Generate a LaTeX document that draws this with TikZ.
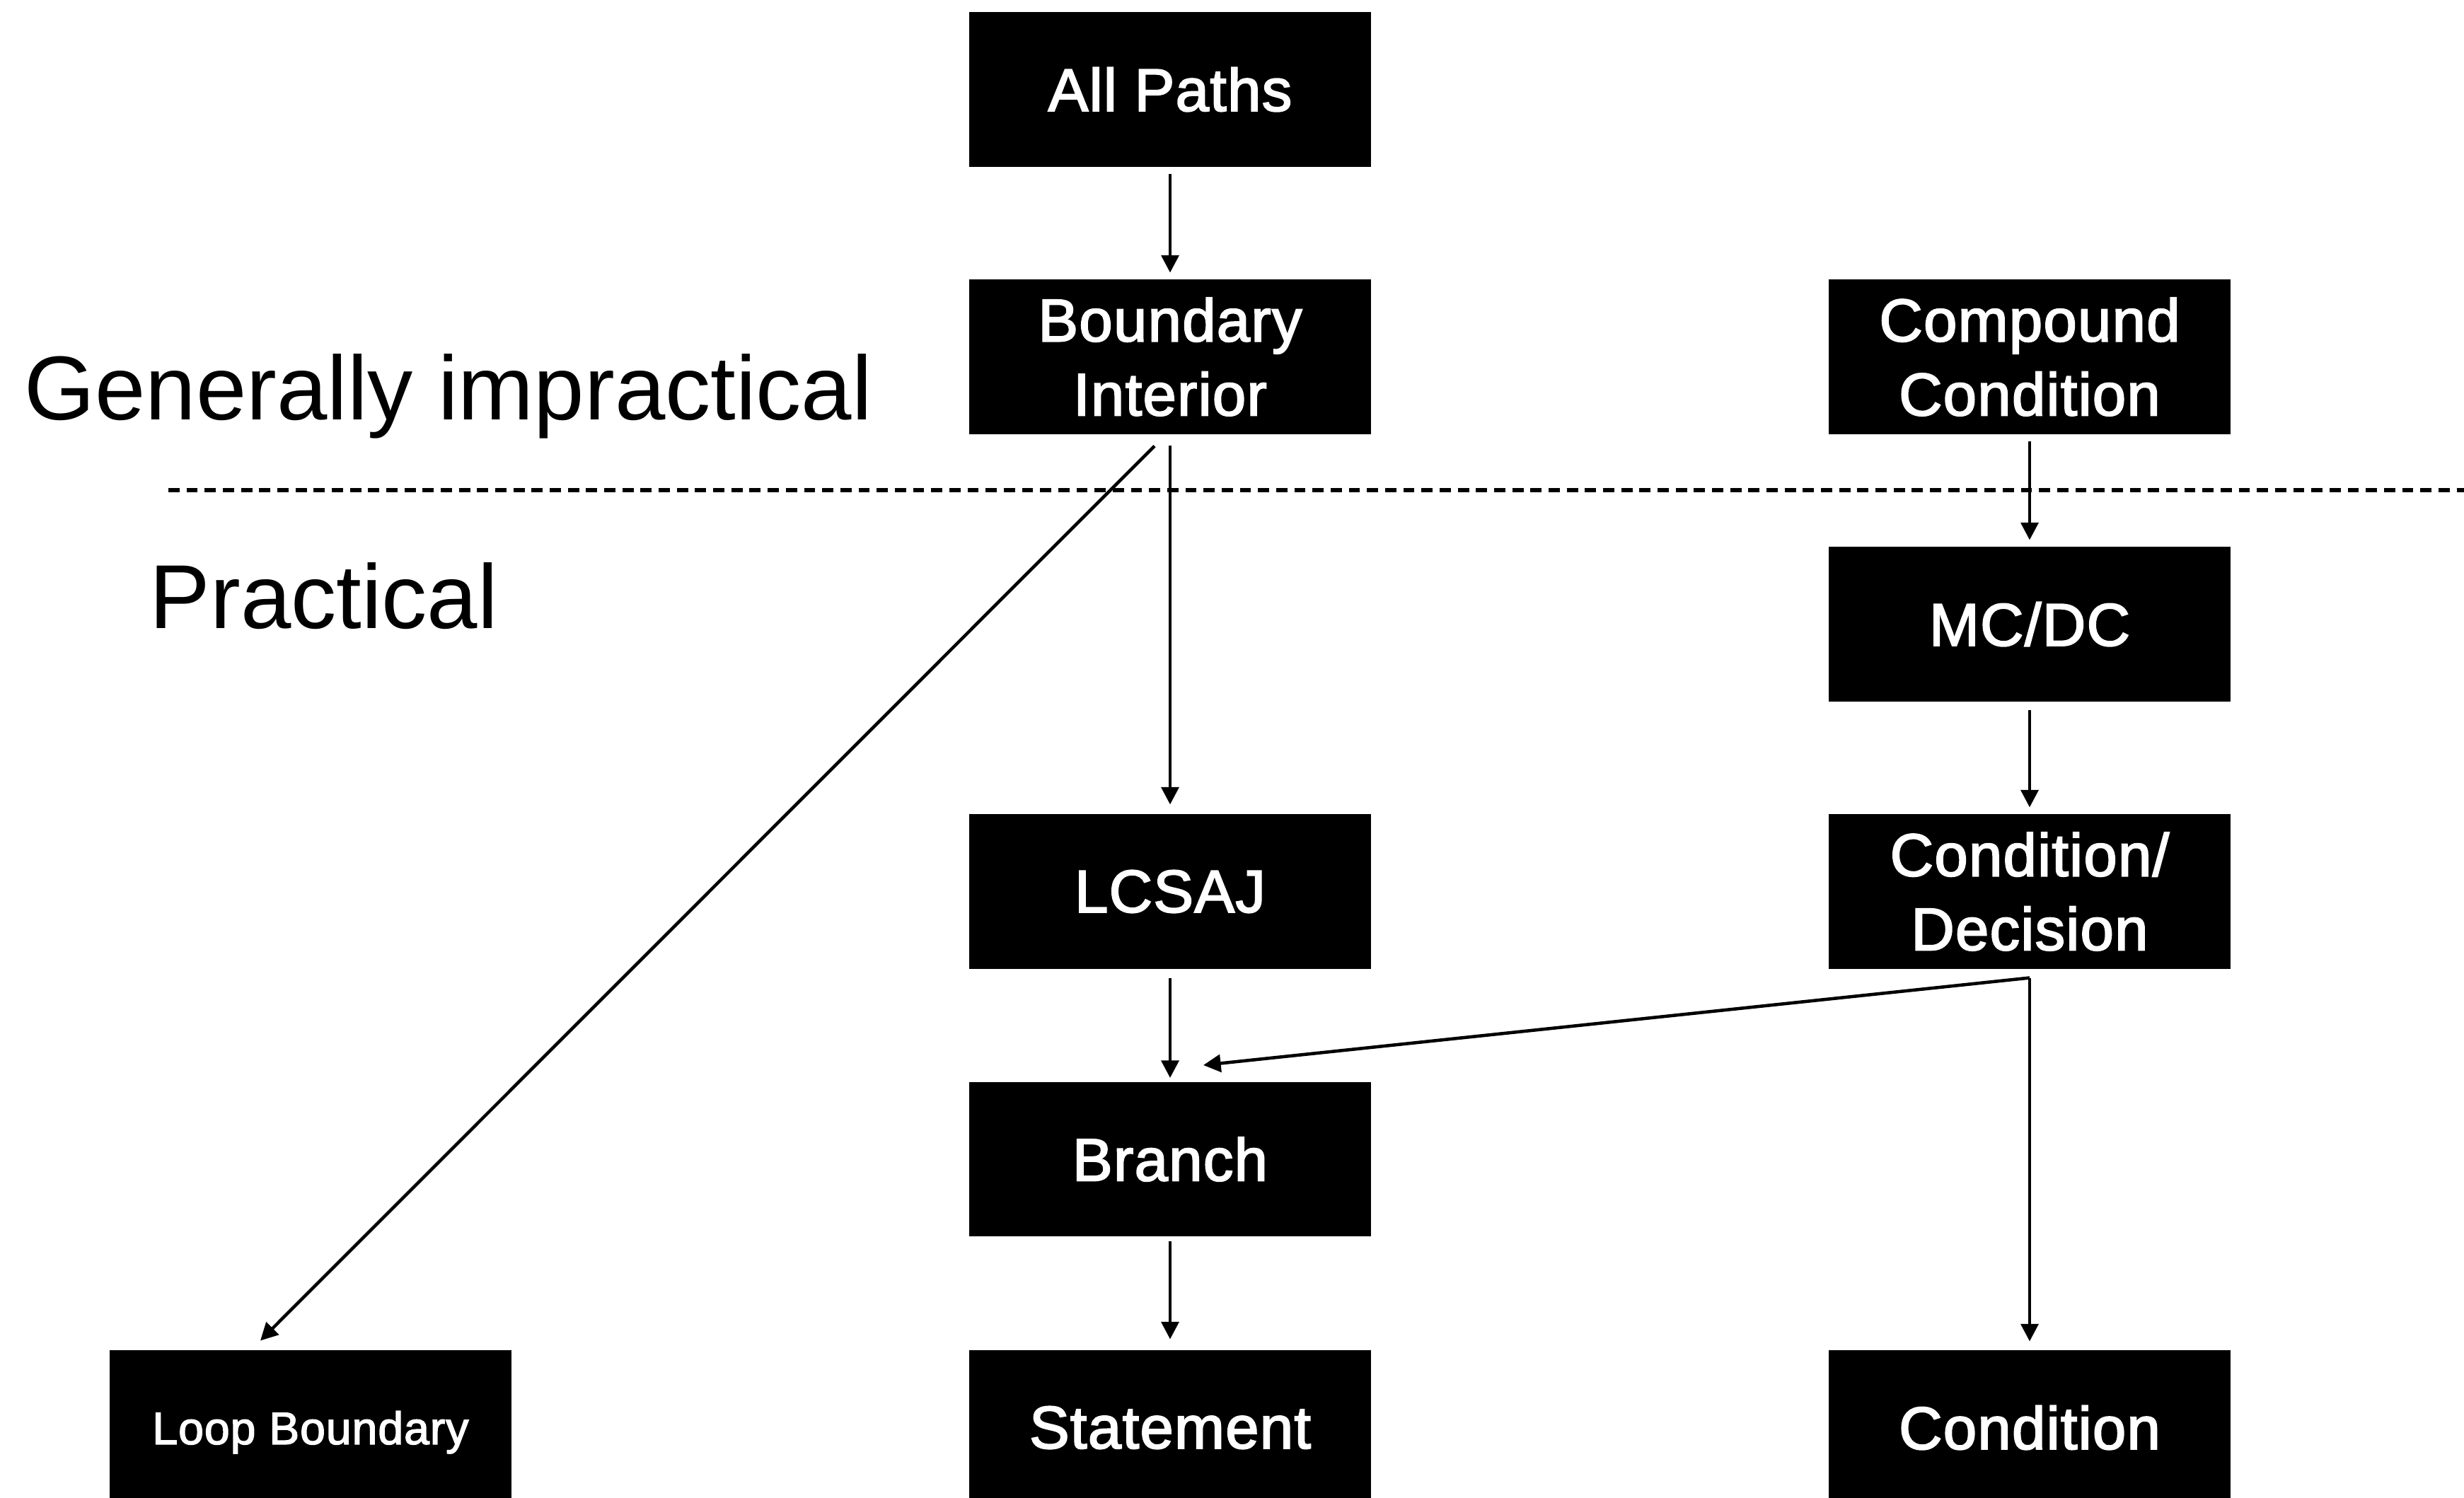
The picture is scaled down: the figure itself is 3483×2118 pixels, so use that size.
\documentclass[tikz,border=0pt]{standalone}
\usepackage{fontspec}
\setmainfont{Liberation Sans}
\newfontfamily\boxfont{Liberation Sans}[FakeBold=2.3,LetterSpace=1.5]
\usetikzlibrary{arrows.meta,calc}

\begin{document}
\begin{tikzpicture}[x=0.01cm,y=-0.01cm,
  box/.style={fill=black,text=white,minimum width=5.67cm,minimum height=2.185cm,
    inner sep=0pt,align=center,font=\boxfont\fontsize{24.2}{29.8}\selectfont},
  smallbox/.style={box,font=\boxfont\fontsize{18.3}{22}\selectfont,text depth=0pt},
  zone/.style={anchor=base west,inner sep=0pt,font=\fontsize{36.5}{42}\selectfont},
  arr/.style={line width=1.3pt,-{Triangle[length=7pt,width=7pt]},
    shorten <=0.09cm,shorten >=0.09cm},
  divider/.style={line width=1.5pt,dash pattern=on 4.5pt off 2.8pt}]

\useasboundingbox (0,0) rectangle (3483,2118);
\clip (0,0) rectangle (3483,2118);

% coverage criteria
\node[box] (ap)   at (1654,126.5)  {All Paths};
\node[box] (bi)   at (1654,504.5)  {Boundary\\Interior};
\node[box] (cc)   at (2869,504.5)  {Compound\\Condition};
\node[box] (mcdc) at (2869,882.5)  {MC/DC};
\node[box] (lc)   at (1654,1260.5) {LCSAJ};
\node[box] (cd)   at (2869,1260.5) {Condition/\\Decision};
\node[box] (br)   at (1654,1639)   {Branch};
\node[smallbox] (lb) at (439,2018.5) {Loop Boundary};
\node[box] (st)   at (1654,2018.5) {Statement};
\node[box] (co)   at (2869,2018.5) {Condition};

% zone labels and separator
\node[zone] (gi) at (34,593) {Generally impractical};
\node[zone] (pr) at (211,888) {Practical};
\draw[divider] (238,693) -- (3483,693);

% subsumption arrows
\coordinate (biout) at ($(bi.south)+(0,15)$);
\coordinate (cdout) at ($(cd.south)+(0,12)$);

\draw[arr] (ap.south) -- (bi.north);
\draw[arr,shorten <=0pt,shorten >=0.13cm] (biout) -- (lc.north);
\draw[arr,shorten <=0pt,shorten >=0pt] ($(biout)+(-22,1)$) -- ($(lb.north)+(-71,-13)$);
\draw[arr] (cc.south) -- (mcdc.north);
\draw[arr,shorten <=0.11cm] (mcdc.south) -- (cd.north);
\draw[arr,shorten <=0.12cm,shorten >=0.05cm] (lc.south) -- (br.north);
\draw[arr,shorten <=0pt,shorten >=0pt] (cdout) -- ($(br.north)+(47,-23)$);
\draw[arr,shorten <=0pt,shorten >=0.12cm] (cdout) -- (co.north);
\draw[arr,shorten <=0.06cm,shorten >=0.15cm] (br.south) -- (st.north);

\end{tikzpicture}
\end{document}
